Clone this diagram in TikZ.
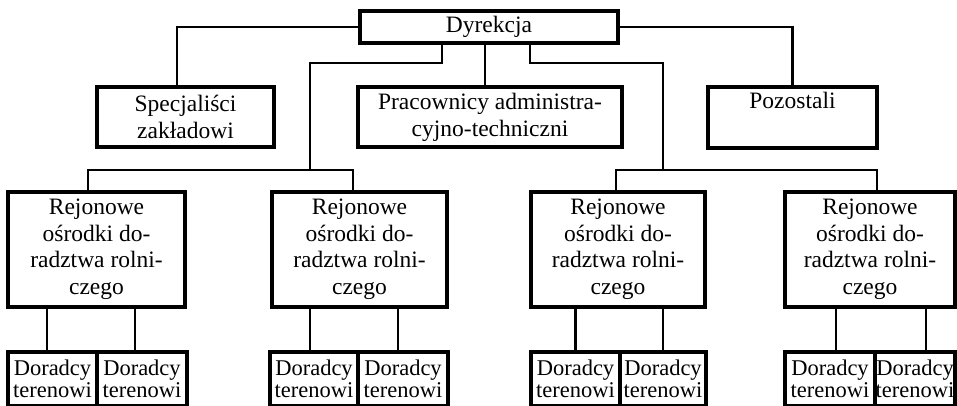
\documentclass[tikz,border=0pt]{standalone}
\usepackage{fontspec}
\setmainfont{Liberation Serif}
\begin{document}
\begin{tikzpicture}[x=1pt,y=-1pt,
  box/.style={draw,line width=3.2pt,inner sep=0pt,align=center,fill=white},
  big/.style={box,font=\fontsize{23.5}{27}\selectfont},
  rej/.style={box,font=\fontsize{23.5}{26.5}\selectfont,minimum width=#1,minimum height=115pt},
  dor/.style={box,font=\fontsize{22.5}{22}\selectfont,minimum width=#1,minimum height=54pt},
  conn/.style={line width=2.4pt}]
\useasboundingbox (0,0) rectangle (957,406);
\clip (0,0) rectangle (957,406);
% top level
\node[big,minimum width=258pt,minimum height=32pt] (dyr) at (489,27) {Dyrekcja};
\node[big,minimum width=177pt,minimum height=60pt] (spec) at (185.5,117) {Specjaliści\\zakładowi};
\node[big,minimum width=264pt,minimum height=60pt] (prac) at (490,117) {Pracownicy administra-\\cyjno-techniczni};
\node[big,minimum width=169pt,minimum height=61pt] (poz) at (792.5,117.5) {Pozostali\\\strut};
% regional
\node[rej=177pt] (rej1) at (96.5,249.5) {Rejonowe\\ośrodki do-\\radztwa rolni-\\czego};
\node[rej=175pt] (rej2) at (359.5,249.5) {Rejonowe\\ośrodki do-\\radztwa rolni-\\czego};
\node[rej=174pt] (rej3) at (618,249.5) {Rejonowe\\ośrodki do-\\radztwa rolni-\\czego};
\node[rej=170pt] (rej4) at (870,249.5) {Rejonowe\\ośrodki do-\\radztwa rolni-\\czego};
% advisers
\node[dor=89pt] (d1a) at (52.5,379) {Doradcy\\terenowi};
\node[dor=90pt] (d1b) at (142,379) {Doradcy\\terenowi};
\node[dor=88pt] (d2a) at (314,379) {Doradcy\\terenowi};
\node[dor=90pt] (d2b) at (403,379) {Doradcy\\terenowi};
\node[dor=89pt] (d3a) at (575.5,379) {Doradcy\\terenowi};
\node[dor=86pt] (d3b) at (663,379) {Doradcy\\terenowi};
\node[dor=90pt] (d4a) at (830,379) {Doradcy\\terenowi};
\node[dor=80pt] (d4b) at (915,379) {Doradcy\\terenowi};
% connectors top
\draw[conn] (dyr.west) -| ([xshift=-8.5pt]spec.north);
\draw[conn] (dyr.east) -| (poz.north);
\draw[conn] ([xshift=-4pt]dyr.south) -- ([xshift=-5pt]prac.north);
\coordinate (kL) at (310,63);
\coordinate (busL) at (310,170);
\coordinate (kR) at (663,63);
\coordinate (busR) at (663,170);
\draw[conn] ([xshift=-47pt]dyr.south) |- (kL) -- (busL);
\draw[conn] ([xshift=41pt]dyr.south) |- (kR) -- (busR);
\draw[conn] ([xshift=-8.5pt]rej1.north) |- ([xshift=-6.5pt]rej2.north |- busL) -- ([xshift=-6.5pt]rej2.north);
\draw[conn] ([xshift=-2pt]rej3.north) |- ([xshift=7pt]rej4.north |- busR) -- ([xshift=7pt]rej4.north);
% connectors to advisers
\foreach \d/\r/\s in {d1a/rej1/-5.5,d1b/rej1/-7,d2a/rej2/-4,d2b/rej2/-5,d3a/rej3/0,d3b/rej3/0,d4a/rej4/6,d4b/rej4/11}{
  \draw[conn] ([xshift=\s pt]\d.north) -- ([xshift=\s pt]\d.north |- \r.south);
}
\end{tikzpicture}
\end{document}
